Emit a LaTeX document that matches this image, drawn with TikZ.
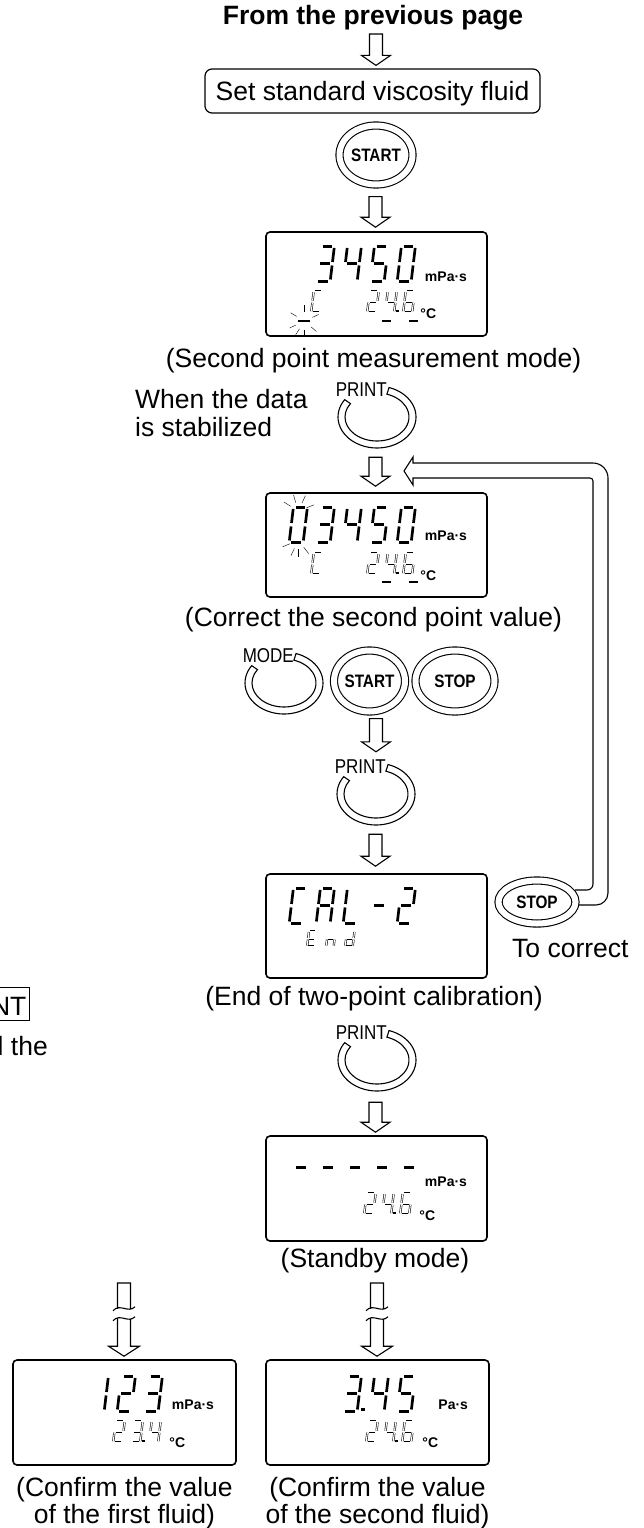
\documentclass[tikz,border=0pt]{standalone}
\usepackage{fontspec}
\setmainfont{Liberation Sans}
\newfontfamily\keyfont[FakeStretch=0.85]{Liberation Sans}
\usetikzlibrary{calc,shapes.geometric}

\newcommand\txt{\fontsize{26.5pt}{26pt}\selectfont}
\makeatletter
\newcommand\defseg[2]{\expandafter\def\csname sg#1\endcsname{#2}}
\defseg0{abcdef}\defseg1{bc}\defseg2{abdeg}\defseg3{abcdg}\defseg4{bcfg}
\defseg5{acdfg}\defseg6{acdefg}\defseg C{adef}\defseg A{abcefg}
\defseg L{def}\defseg-{g}\defseg E{adefg}\defseg n{ceg}\defseg d{bcdeg}
\newcommand\lcdstr[6]{%
  \foreach \ch [count=\i from 0] in {#6} {
    \begin{scope}[shift={(#1)}, xshift=\i*#4, x=#2, y=#3, xslant=0.12]
      \foreach \s/\xa/\ya/\xb/\yb in {a/.15/2/.85/2, b/1/1.9/1/1.1, c/1/.9/1/.1,
          d/.15/0/.85/0, e/0/.1/0/.9, f/0/1.1/0/1.9, g/.15/1/.85/1} {
        \edef\segtest{\noexpand\in@{\s}{\csname sg\ch\endcsname}}\segtest
        \ifin@ \draw[#5] (\xa,\ya) -- (\xb,\yb); \fi
      }
    \end{scope}
  }}
\makeatother
\newcommand\keyring[3]{%
  \node[ellipse, minimum width=78pt, minimum height=62pt, inner sep=0pt] (#1) at (#2) {};
  \draw[line width=1.1pt] ($(#1.center)+(72:39pt and 31pt)$)
    arc[start angle=72, end angle=-214, x radius=39pt, y radius=31pt]
    -- ($(#1.center)+(146:32pt and 24pt)$)
    arc[start angle=-214, end angle=72, x radius=32pt, y radius=24pt] -- cycle;
  \node[keylabel, anchor=base east] (#1-label) at ($(#1.center)+(10,-21)$) {#3};}

\begin{document}
\begin{tikzpicture}[x=1pt, y=-1pt,
  note/.style={font=\txt, anchor=base, inner sep=0pt},
  lcd/.style={draw, line width=1.6pt, rounded corners=4pt, minimum width=221pt,
    minimum height=104pt, inner sep=0pt},
  btn/.style={ellipse, draw, double, double distance=6pt, line width=1.1pt, inner sep=0pt,
    font=\keyfont\bfseries\fontsize{18pt}{18pt}\selectfont},
  keylabel/.style={font=\keyfont\fontsize{20pt}{20pt}\selectfont, inner sep=0pt},
  unitlbl/.style={font=\bfseries\fontsize{14pt}{14pt}\selectfont, inner sep=0pt},
  seg/.style={line width=2.7pt},
  segh/.style={double, double distance=1.1pt, line width=0.55pt},
  hollow/.style={line width=1.1pt, to path={let \p1=(\tikztostart), \p2=(\tikztotarget) in
    (\x2-6.5pt,\y1) -- (\x2-6.5pt,\y2+10pt) -- (\x2-14.5pt,\y2+10pt) -- (\x2,\y2)
    -- (\x2+14.5pt,\y2+10pt) -- (\x2+6.5pt,\y2+10pt) -- (\x2+6.5pt,\y1) -- cycle}},
  hollowbreak/.style={line width=1.1pt, to path={let \p1=(\tikztostart), \p2=(\tikztotarget),
    \p3=($(\p1)!.42!(\p2)$) in
    (\x2-6.5pt,\y3+5pt) -- (\x2-6.5pt,\y1) -- (\x2+6.5pt,\y1) -- (\x2+6.5pt,\y3+5pt)
    (\x2-6.5pt,\y3-5pt) -- (\x2-6.5pt,\y2+10pt) -- (\x2-15.5pt,\y2+10pt) -- (\x2,\y2)
    -- (\x2+15.5pt,\y2+10pt) -- (\x2+6.5pt,\y2+10pt) -- (\x2+6.5pt,\y3-5pt)
    (\x2-11pt,\y3+3pt) .. controls (\x2-4pt,\y3+11pt) and (\x2+4pt,\y3) .. (\x2+11pt,\y3+7pt)
    (\x2-11pt,\y3-7pt) .. controls (\x2-4pt,\y3+1pt) and (\x2+4pt,\y3-10pt) .. (\x2+11pt,\y3-3pt)}}]
\useasboundingbox (0,0) rectangle (643,1528);

\node[note, font=\txt\bfseries] (from) at (373,25) {From the previous page};
\node[draw, line width=1.2pt, rounded corners=7pt, minimum width=335pt, minimum height=44pt,
  text height=19pt, text depth=0pt, inner sep=0pt, font=\txt] (fluid) at (372.5,91)
  {Set standard viscosity fluid};
\node[btn, minimum width=73pt, minimum height=59pt] (start1) at (376,155) {START};
\node[lcd] (lcd1) at (376.5,284) {};
\node[note] (secmode) at (373.5,367) {(Second point measurement mode)};
\node[note, anchor=base west] (stable1) at (135,408) {When the data};
\node[note, anchor=base west] (stable2) at (135,436) {is stabilized};
\keyring{print1}{377,417}{PRINT}
\node[lcd] (lcd2) at (376.5,545) {};
\node[note] (correct) at (373.5,626) {(Correct the second point value)};
\keyring{modekey}{284,683}{MODE}
\node[btn, minimum width=71pt, minimum height=61pt] (start2) at (369.5,681) {START};
\node[btn, minimum width=79pt, minimum height=61pt] (stop1) at (455,681) {STOP};
\keyring{print2}{376,794}{PRINT}
\node[lcd] (lcd3) at (376.5,926) {};
\node[btn, minimum width=77pt, minimum height=43pt] (stop2) at (537,902) {STOP};
\node[note, anchor=base west] (redo) at (512,957) {To correct};
\node[note] (calend) at (374,1005) {(End of two-point calibration)};
\node[draw, line width=1.3pt, anchor=base east, inner xsep=3pt, inner ysep=1.5pt,
  text height=26pt, text depth=4pt, font=\txt] (printbox) at (30,1015) {NT};
\node[note, anchor=base east] (andthe) at (48,1055) {l the};
\keyring{print3}{377,1060}{PRINT}
\node[lcd, minimum height=105pt] (lcd4) at (376.5,1188.5) {};
\node[note] (standby) at (375,1267) {(Standby mode)};
\coordinate (skip) at (124.5,1283);
\node[lcd, minimum width=223pt, minimum height=105pt] (lcd5) at (124.5,1412.5) {};
\node[lcd, minimum width=223pt, minimum height=105pt] (lcd6) at (377.5,1412.5) {};
\node[note] (conf1a) at (124.5,1496) {(Confirm the value};
\node[note] (conf1b) at (124.5,1523) {of the first fluid)};
\node[note] (conf2a) at (377.5,1496) {(Confirm the value};
\node[note] (conf2b) at (377.5,1523) {of the second fluid)};

\draw[hollow] ([yshift=-9pt]from.base) to ([xshift=3.5pt,yshift=3pt]fluid.north);
\draw[hollow] ([yshift=-11.5pt]start1.south) to ([xshift=-1pt,yshift=4pt]lcd1.north);
\draw[hollow] ([yshift=-9pt]print1.south) to ([xshift=-1pt,yshift=6pt]lcd2.north);
\draw[hollow] ([yshift=-6.5pt]start2.south) to ([yshift=11pt]print2.north);
\draw[hollow] ([yshift=-9pt]print2.south) to ([xshift=-1pt,yshift=7pt]lcd3.north);
\draw[hollow] ([yshift=-11pt]print3.south) to ([xshift=-1pt,yshift=3pt]lcd4.north);
\draw[hollowbreak] (skip) to ([xshift=-0.5pt,yshift=3pt]lcd5.north);
\draw[hollowbreak] ([yshift=-16pt]standby.base) to ([xshift=-0.5pt,yshift=3pt]lcd6.north);

\coordinate (back) at (404,471);
\draw[line width=1.1pt] (579,905) -- (596,905) arc[start angle=-90, end angle=0, radius=12pt]
  -- (608,478) arc[start angle=0, end angle=90, radius=15pt] -- (413,463) -- (413,457)
  -- (back) -- (413,485) -- (413,478) -- (590,478) arc[start angle=90, end angle=0, radius=3pt]
  -- (593,884) arc[start angle=0, end angle=-90, radius=6pt] -- (575,890);

\begin{scope}[shift={(lcd1.north west)}]
  \lcdstr{51,50}{14pt}{17.5pt}{27pt}{seg}{3,4,5,0}
  \lcdstr{46,81}{9pt}{10.5pt}{18pt}{segh}{C}
  \lcdstr{102,81}{9pt}{10.5pt}{18pt}{segh}{2,4,6}
  \fill (131,81) rectangle (133.5,78.5);
  \node[unitlbl, anchor=base east] (unit1) at (202,50) {mPa·s};
  \node[unitlbl, anchor=base west] (deg1) at (155,87) {°C};
  \draw[line width=2.4pt] (117,90) -- (126,90) (144,90) -- (153,90) (33,90) -- (45,90);
  \foreach \a in {25,90,148,-40,-90,-122,-155} \draw[shift={(39,90)}] (\a:9pt) -- (\a:16pt);
\end{scope}
\begin{scope}[shift={(lcd2.north west)}]
  \lcdstr{24,50}{14pt}{17.5pt}{27pt}{seg}{0,3,4,5,0}
  \lcdstr{46,82}{9pt}{10.5pt}{18pt}{segh}{C}
  \lcdstr{102,82}{9pt}{10.5pt}{18pt}{segh}{2,4,6}
  \fill (131,82) rectangle (133.5,79.5);
  \node[unitlbl, anchor=base east] (unit2) at (202,48) {mPa·s};
  \node[unitlbl, anchor=base west] (deg2) at (155,88) {°C};
  \draw[line width=2.4pt] (117,90) -- (126,90) (144,90) -- (153,90);
  \foreach \a in {147,106,65,22} \draw[shift={(33,19)}] (\a:9pt) -- (\a:17pt);
  \foreach \a in {-157,-115,-90,-52} \draw[shift={(33,48)}] (\a:9pt) -- (\a:17pt);
\end{scope}
\begin{scope}[shift={(lcd3.north west)}]
  \lcdstr{24,50}{14pt}{17.5pt}{27pt}{seg}{C,A,L,-,2}
  \lcdstr{42,73}{7.5pt}{7.5pt}{19pt}{segh}{E,n,d}
\end{scope}
\begin{scope}[shift={(lcd4.north west)}]
  \lcdstr{27,50}{14pt}{17.5pt}{27pt}{seg}{-,-,-,-,-}
  \lcdstr{99,79}{9pt}{10.5pt}{18pt}{segh}{2,4,6}
  \fill (128,79) rectangle (130.5,76.5);
  \node[unitlbl, anchor=base east] (unit4) at (202,51) {mPa·s};
  \node[unitlbl, anchor=base west] (deg4) at (154,85) {°C};
\end{scope}
\begin{scope}[shift={(lcd5.north west)}]
  \lcdstr{78,52}{14pt}{17.5pt}{27pt}{seg}{1,2,3}
  \lcdstr{101,83}{9pt}{10.5pt}{18pt}{segh}{2,3,4}
  \fill (130,83) rectangle (132.5,80.5);
  \node[unitlbl, anchor=base east] (unit5) at (202,50) {mPa·s};
  \node[unitlbl, anchor=base west] (deg5) at (157,88) {°C};
\end{scope}
\begin{scope}[shift={(lcd6.north west)}]
  \lcdstr{78,52}{14pt}{17.5pt}{27pt}{seg}{3,4,5}
  \fill (96,52) rectangle (99.5,48.5);
  \lcdstr{101,83}{9pt}{10.5pt}{18pt}{segh}{2,4,6}
  \fill (130,83) rectangle (132.5,80.5);
  \node[unitlbl, anchor=base east] (unit6) at (203,50) {Pa·s};
  \node[unitlbl, anchor=base west] (deg6) at (157,88) {°C};
\end{scope}
\end{tikzpicture}
\end{document}
